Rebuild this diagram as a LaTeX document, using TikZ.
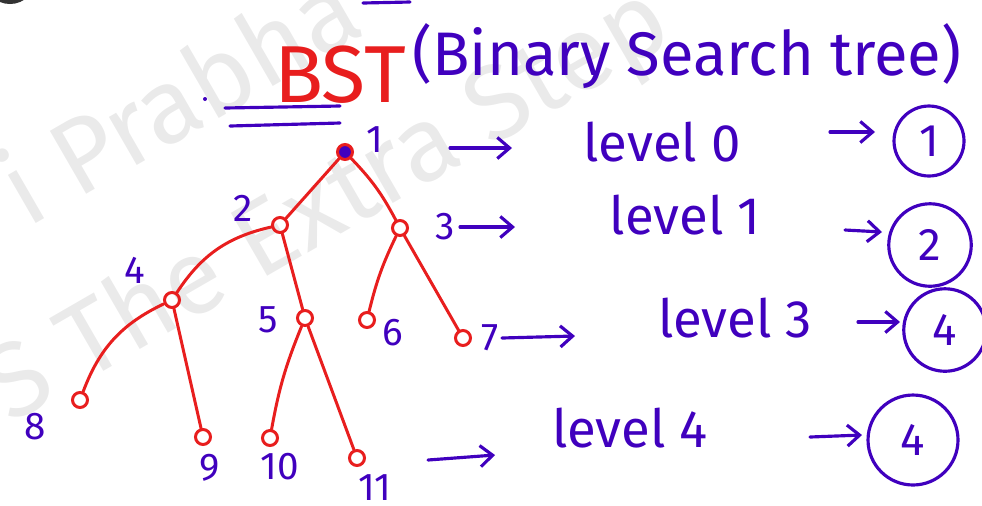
\documentclass[tikz,border=0pt]{standalone}
\usepackage{fontspec}
\setmainfont{Fira Sans}
\usetikzlibrary{arrows.meta}

\definecolor{ink}{RGB}{64,0,190}
\definecolor{pen}{RGB}{232,30,30}
\definecolor{faint}{RGB}{234,234,234}

\begin{document}
\begin{tikzpicture}[x=0.02cm, y=-0.02cm,
    vert/.style={circle, draw=pen, line width=1.7pt, inner sep=0pt, minimum size=0.3cm},
    branch/.style={pen, line width=1.7pt, line cap=round},
    lbl/.style={text=ink, font=\fontsize{22}{24}\selectfont, inner sep=0pt},
    lvl/.style={text=ink, font=\fontsize{30}{32}\selectfont, inner sep=0pt},
    hand/.style={-{Straight Barb[length=7pt,width=12pt]}, ink, line width=1.8pt, line cap=round},
    count/.style={circle, draw=ink, line width=1.8pt, text=ink, font=\fontsize{26}{28}\selectfont, inner sep=0pt},
    wmark/.style={text=faint, font=\fontsize{60}{62}\selectfont, inner sep=0pt, rotate=30}]
    \useasboundingbox (0,0) rectangle (982,505);

    % watermark
    \begin{scope}
        \clip (0,0) rectangle (982,505);
        \node[wmark, anchor=base east] (wmA) at (368,32) {i Prabha};
        \node[wmark, anchor=base west] (wmB) at (10,425) {S The Extra Step};
        \fill[black!80] (10,-22) circle (26);
    \end{scope}

    % title
    \node[text=pen, font=\fontsize{46}{48}\selectfont, inner sep=0pt] (bst) at (340,75) {BST};
    \node[text=ink, font=\fontsize{35}{37}\selectfont, inner sep=0pt, anchor=west] (name) at (412,56) {(Binary Search tree)};
    \draw[ink, line width=1.8pt, line cap=round] (225,108) -- (340,106);
    \draw[ink, line width=1.8pt, line cap=round] (230,126) -- (340,123);
    \draw[ink, line width=1.8pt, line cap=round] (363,3) -- (410,2);
    \fill[ink] (205,99) circle (2);

    % tree
    \node[vert, fill=ink] (n1) at (345,152) {};
    \node[vert] (n2) at (280,225) {};
    \node[vert] (n3) at (400,228) {};
    \node[vert] (n4) at (172,300) {};
    \node[vert] (n5) at (305,318) {};
    \node[vert] (n6) at (367,320) {};
    \node[vert] (n7) at (463,338) {};
    \node[vert] (n8) at (80,400) {};
    \node[vert] (n9) at (203,437) {};
    \node[vert] (n10) at (270,438) {};
    \node[vert] (n11) at (357,458) {};

    \draw[branch] (n1) -- (n2);
    \draw[branch] (n1) to[bend left=8] (n3);
    \draw[branch] (n2) to[bend right=22] (n4);
    \draw[branch] (n2) -- (n5);
    \draw[branch] (n3) to[bend right=6] (n6);
    \draw[branch] (n3) -- (n7);
    \draw[branch] (n4) to[bend right=22] (n8);
    \draw[branch] (n4) -- (n9);
    \draw[branch] (n5) to[bend right=6] (n10);
    \draw[branch] (n5) -- (n11);

    \node[lbl] (l1) at (375,140) {1};
    \node[lbl] (l2) at (243,208) {2};
    \node[lbl] (l3) at (445,227) {3};
    \node[lbl] (l4) at (135,270) {4};
    \node[lbl] (l5) at (268,320) {5};
    \node[lbl] (l6) at (393,333) {6};
    \node[lbl] (l7) at (490,338) {7};
    \node[lbl] (l8) at (35,427) {8};
    \node[lbl] (l9) at (210,468) {9};
    \node[lbl] (l10) at (280,467) {10};
    \node[lbl] (l11) at (375,488) {11};

    % levels
    \node[lvl] (lv0) at (662,142) {level 0};
    \node[lvl] (lv1) at (685,215) {level 1};
    \node[lvl] (lv3) at (735,318) {level 3};
    \node[lvl] (lv4) at (630,428) {level 4};

    \node[count, minimum size=1.4cm] (c0) at (929,141) {1};
    \node[count, minimum size=1.65cm] (c1) at (930,245) {2};
    \node[count, minimum size=1.65cm] (c3) at (945,330) {4};
    \node[count, minimum size=1.8cm] (c4) at (913,440) {4};

    \coordinate (a0) at (450,148);
    \coordinate (b0) at (512,148);
    \coordinate (a1) at (460,227);
    \coordinate (b1) at (515,227);
    \coordinate (a3) at (502,338);
    \coordinate (b3) at (575,336);
    \coordinate (a4) at (428,460);
    \coordinate (b4) at (495,455);
    \draw[hand] (a0) -- (b0);
    \draw[hand] (a1) -- (b1);
    \draw[hand] (a3) -- (b3);
    \draw[hand] (a4) -- (b4);

    \coordinate (p0) at (830,132);
    \coordinate (q0) at (875,132);
    \coordinate (p1) at (845,230);
    \coordinate (q1) at (882,232);
    \coordinate (p3) at (858,322);
    \coordinate (q3) at (900,322);
    \coordinate (p4) at (810,437);
    \coordinate (q4) at (862,435);
    \draw[hand] (p0) -- (q0);
    \draw[hand] (p1) -- (q1);
    \draw[hand] (p3) -- (q3);
    \draw[hand] (p4) -- (q4);
\end{tikzpicture}
\end{document}
